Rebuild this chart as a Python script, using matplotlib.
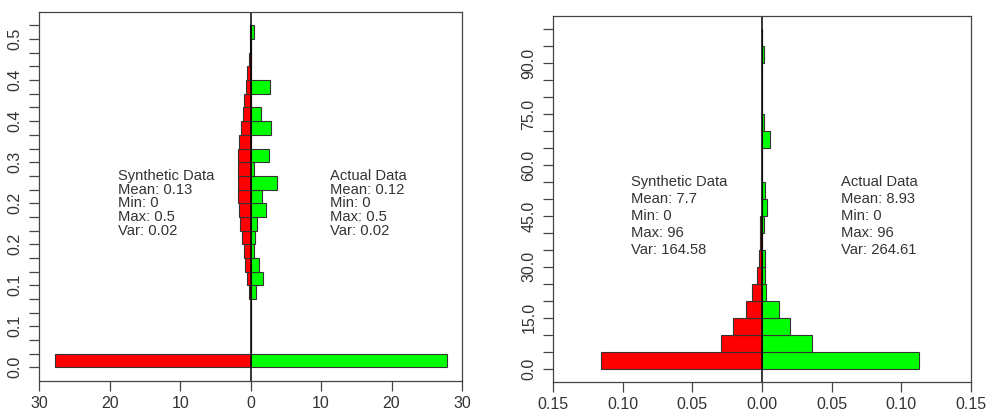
import matplotlib.pyplot as plt
import numpy as np

plt.rcParams['font.family'] = ['Liberation Sans', 'DejaVu Sans']

# left variable: density per bin (25 bins, width 0.5/24)
left_synth = [27.8, 0, 0, 0, 0, 0.28, 0.57, 0.75, 1.0, 1.23, 1.56, 1.66, 1.85,
              1.8, 1.75, 1.85, 1.7, 1.42, 1.14, 1.0, 0.71, 0.57, 0.28, 0.05, 0.1]
left_actual = [27.9, 0, 0, 0, 0, 0.7, 1.8, 1.18, 0.52, 0.6, 0.85, 2.13, 1.66,
               3.75, 0.5, 2.65, 0, 2.9, 1.42, 0, 2.8, 0, 0, 0, 0.5]
left_ylabels = ["0.0", "0.1", "0.1", "0.2", "0.2", "0.3", "0.4", "0.4", "0.5"]
left_xticks = [-30, -20, -10, 0, 10, 20, 30]

# right variable: density per bin (20 bins of width 5)
right_synth = [0.1158, 0.0297, 0.0206, 0.0112, 0.0069, 0.0036, 0.0022, 0.0014,
               0.0014, 0.0002, 0.0003, 0.0003, 0.0002, 0.0001, 0.0001, 0.0001,
               0.0001, 0.0001, 0.0001, 0.0002]
right_actual = [0.1127, 0.0359, 0.0199, 0.0122, 0.0031, 0.0019, 0.0019, 0.0003,
                0.0017, 0.0033, 0.0019, 0.0002, 0.0001, 0.0057, 0.0014, 0.0001,
                0.0001, 0.0001, 0.0014, 0.0003]
right_ylabels = ["0.0", "15.0", "30.0", "45.0", "60.0", "75.0", "90.0"]
right_xticks = [-0.15, -0.10, -0.05, 0.0, 0.05, 0.10, 0.15]

left_synth_stats = ["Synthetic Data", "Mean: 0.13", "Min: 0", "Max: 0.5", "Var: 0.02"]
left_actual_stats = ["Actual Data", "Mean: 0.12", "Min: 0", "Max: 0.5", "Var: 0.02"]
right_synth_stats = ["Synthetic Data", "Mean: 7.7", "Min: 0", "Max: 96", "Var: 164.58"]
right_actual_stats = ["Actual Data", "Mean: 8.93", "Min: 0", "Max: 96", "Var: 264.61"]

GREY = "#444444"
TXT = "#333333"


def back_to_back(ax, synth, actual, bw, xticks, xfmt, ylabels, ystep,
                 synth_stats, actual_stats, sx, ax_x, ty, dy):
    n = len(synth)
    edges = np.arange(n) * bw
    synth = np.array(synth)
    ax.barh(edges, -synth, height=bw, align="edge", color="#ff0000",
            edgecolor="#333333", linewidth=0.8)
    ax.barh(edges, actual, height=bw, align="edge", color="#00ff00",
            edgecolor="#333333", linewidth=0.8)
    ax.axvline(0, color="black", linewidth=1.1)

    top = n * bw
    pad = top * 0.04
    ax.set_ylim(-pad, top + pad)
    ax.set_xlim(xticks[0], xticks[-1])

    ax.set_xticks(xticks)
    ax.set_xticklabels([xfmt.format(abs(t)) for t in xticks])
    ax.set_yticks(np.arange(n + 1) * bw, minor=True)
    ax.set_yticks(np.arange(len(ylabels)) * ystep * bw)
    ax.set_yticklabels(ylabels, rotation=90, va="center")
    ax.tick_params(which="both", direction="out", length=7, width=0.9,
                   color=GREY, labelcolor=TXT, labelsize=11.5)
    ax.tick_params(axis="x", pad=4)
    ax.tick_params(axis="y", pad=5)
    for s in ax.spines.values():
        s.set_color(GREY)
        s.set_linewidth(0.9)

    for i, line in enumerate(synth_stats):
        ax.text(sx, ty - i * dy, line, ha="left", va="center",
                fontsize=10.6, color=TXT)
    for i, line in enumerate(actual_stats):
        ax.text(ax_x, ty - i * dy, line, ha="left", va="center",
                fontsize=10.6, color=TXT)


fig = plt.figure(figsize=(9.87, 4.13), dpi=100)
ax1 = fig.add_axes([0.040, 0.0775, 0.428, 0.894])
ax2 = fig.add_axes([0.5603, 0.0746, 0.4235, 0.887])

w_left = 0.5 / 24
back_to_back(ax1, left_synth, left_actual, w_left, left_xticks, "{:.0f}",
             left_ylabels, 3, left_synth_stats, left_actual_stats,
             -18.9, 11.3, 14 * w_left, w_left)
back_to_back(ax2, right_synth, right_actual, 5, right_xticks, "{:.2f}",
             right_ylabels, 3, right_synth_stats, right_actual_stats,
             -0.0938, 0.0564, 55, 5)

fig.savefig("out.png", dpi=100)
